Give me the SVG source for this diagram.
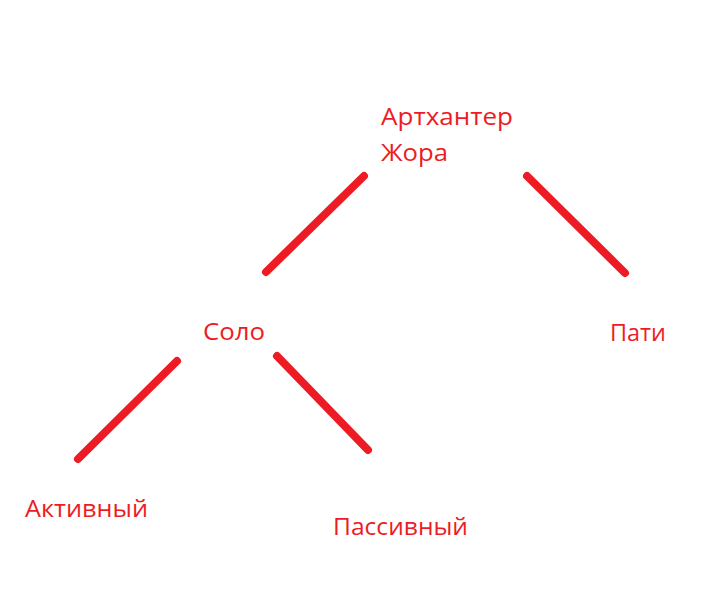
<svg xmlns="http://www.w3.org/2000/svg" width="728" height="614" viewBox="0 0 728 614">
<style>
.t{font-family:"Open Sans","Noto Sans","Liberation Sans",sans-serif;font-size:24px;fill:#ed1c24}
.c line{stroke:#ed1c24;stroke-width:8;stroke-linecap:round}
</style>
<rect width="728" height="614" fill="#fff"/>
<g class="c" id="connectors">
<line x1="364" y1="176" x2="266" y2="272"/>
<line x1="527" y1="176" x2="625" y2="273"/>
<line x1="177" y1="361" x2="78" y2="459"/>
<line x1="277" y1="356" x2="368" y2="450"/>
</g>
<g id="root"><text class="t" x="381" y="125" textLength="132" lengthAdjust="spacingAndGlyphs">Артхантер</text><text class="t" x="381" y="161" textLength="67" lengthAdjust="spacingAndGlyphs">Жора</text></g>
<g id="solo"><text class="t" x="203" y="340" textLength="62" lengthAdjust="spacingAndGlyphs">Соло</text></g>
<g id="party"><text class="t" x="610" y="341" textLength="56" lengthAdjust="spacingAndGlyphs">Пати</text></g>
<g id="active"><text class="t" x="25" y="517" textLength="123" lengthAdjust="spacingAndGlyphs">Активный</text></g>
<g id="passive"><text class="t" x="333" y="535" textLength="135" lengthAdjust="spacingAndGlyphs">Пассивный</text></g>
</svg>
